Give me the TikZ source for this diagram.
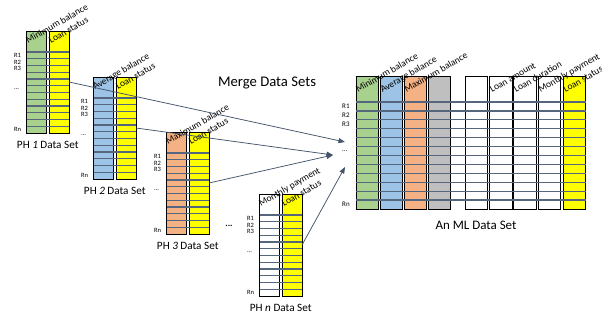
\documentclass[tikz,border=0pt]{standalone}
\usepackage{fontspec}
\setmainfont{Carlito}
\usetikzlibrary{arrows.meta}

\definecolor{colgreen}{HTML}{A9D18E}
\definecolor{colblue}{HTML}{9DC3E6}
\definecolor{colorange}{HTML}{F4B183}
\definecolor{colgray}{HTML}{BFBFBF}
\definecolor{colyellow}{HTML}{FFFF00}
\definecolor{rowline}{HTML}{56667C}
\definecolor{arrowcol}{HTML}{44546A}

\tikzset{
  datacol/.style={draw=black, line width=0.9pt, anchor=north west,
    minimum width=20pt, minimum height=102pt, inner sep=0pt, outer sep=0pt},
  mlcol/.style={datacol, minimum width=22.5pt, minimum height=133pt},
  collabel/.style={anchor=base west, rotate=30, inner sep=0pt,
    font=\fontsize{9.5}{10}\selectfont},
  rowlabel/.style={anchor=west, inner sep=0pt, font=\fontsize{6.5}{7}\selectfont},
  mlrowlabel/.style={rowlabel, font=\fontsize{7}{8}\selectfont},
  setlabel/.style={inner sep=0pt, font=\fontsize{11.2}{13}\selectfont},
  rowrule/.style={draw=rowline, line width=1.2pt},
  mergearrow/.style={draw=arrowcol, line width=0.75pt,
    -{Triangle[length=6.5pt,width=5pt]}}
}

% one source data set: name, left x, top y, two fills, two headers, number
\newcommand\drawphset[8]{%
  \node[datacol, fill=#4] (#1a) at (#2,#3) {};
  \node[datacol, fill=#5] (#1b) at (#2+22.5,#3) {};
  \foreach \k in {0,...,11}
    \draw[rowrule] (#2,#3+21+\k*6.75) -- (#2+42.5,#3+21+\k*6.75);
  \node[collabel] (#1ha) at (#2+1.5,#3+13) {#6};
  \node[collabel] (#1hb) at (#2+24.5,#3+13) {#7};
  \node[rowlabel] (#1r1) at (#2-12.5,#3+21+0.5*6.75) {R1};
  \node[rowlabel] (#1r2) at (#2-12.5,#3+21+1.5*6.75) {R2};
  \node[rowlabel] (#1r3) at (#2-12.5,#3+21+2.5*6.75) {R3};
  \node[rowlabel] (#1rd) at (#2-12.5,#3+21+5.5*6.75) {...};
  \node[rowlabel] (#1rn) at (#2-12.5,#3+21+11.5*6.75) {Rn};
  \node[setlabel] (#1name) at (#2+21.25,#3+114) {PH \textit{#8} Data Set};
}

\begin{document}
\begin{tikzpicture}[x=1pt, y=-1pt]
\useasboundingbox (0,0) rectangle (602,323);

% source data sets
\drawphset{pha}{26.5}{31}{colgreen}{colyellow}{Minimum balance}{Loan status}{1}
\drawphset{phb}{93.5}{77}{colblue}{colyellow}{Average balance}{Loan status}{2}
\drawphset{phc}{166.5}{132}{colorange}{colyellow}{Maximum balance}{Loan status}{3}
\drawphset{phn}{259.5}{194}{white}{colyellow}{Monthly payment}{Loan status}{n}

\node[inner sep=0pt, font=\bfseries\fontsize{9}{10}\selectfont] (gapdots) at (229,226) {...};

% merged data set
\node[mlcol, fill=colgreen]  (mla) at (356,76) {};
\node[mlcol, fill=colblue]   (mlb) at (380,76) {};
\node[mlcol, fill=colorange] (mlc) at (404,76) {};
\node[mlcol, fill=colgray]   (mld) at (428,76) {};
\node[mlcol, fill=white]     (mle) at (465,76) {};
\node[mlcol, fill=white]     (mlf) at (489.5,76) {};
\node[mlcol, fill=white]     (mlg) at (513.5,76) {};
\node[mlcol, fill=white]     (mlh) at (538,76) {};
\node[mlcol, fill=colyellow] (mli) at (563,76) {};
\foreach \k in {0,...,11}
  \draw[rowrule] (356,102+\k*8.917) -- (585.5,102+\k*8.917);

\node[collabel] (mlha) at (358,93) {Minimum balance};
\node[collabel] (mlhb) at (382.5,93) {Average balance};
\node[collabel] (mlhc) at (406.5,93) {Maximum balance};
\node[collabel] (mlhf) at (492,93) {Loan amount};
\node[collabel] (mlhg) at (516,93) {Loan duration};
\node[collabel] (mlhh) at (540.5,93) {Monthly payment};
\node[collabel] (mlhi) at (565.5,93) {Loan status};

\node[mlrowlabel] (mlr1) at (342,102+0.5*8.917) {R1};
\node[mlrowlabel] (mlr2) at (342,102+1.5*8.917) {R2};
\node[mlrowlabel] (mlr3) at (342,102+2.5*8.917) {R3};
\node[mlrowlabel] (mlrd) at (342,102+5.5*8.917) {...};
\node[mlrowlabel] (mlrn) at (342,102+11.5*8.917) {Rn};

\node[inner sep=0pt, font=\fontsize{13}{15}\selectfont] (mlname) at (476,225) {An ML Data Set};
\node[inner sep=0pt, font=\fontsize{14.7}{17}\selectfont] (title) at (267,83) {Merge Data Sets};

% merge arrows
\coordinate (inA) at (345,142);
\coordinate (inB) at (333,155);
\coordinate (inC) at (345,167);
\draw[mergearrow] (phab.east) -- (inA);
\draw[mergearrow] (phbb.east) -- (inB);
\draw[mergearrow] (phcb.east) -- (inB);
\draw[mergearrow] (phnb.east) -- (inC);
\end{tikzpicture}
\end{document}
